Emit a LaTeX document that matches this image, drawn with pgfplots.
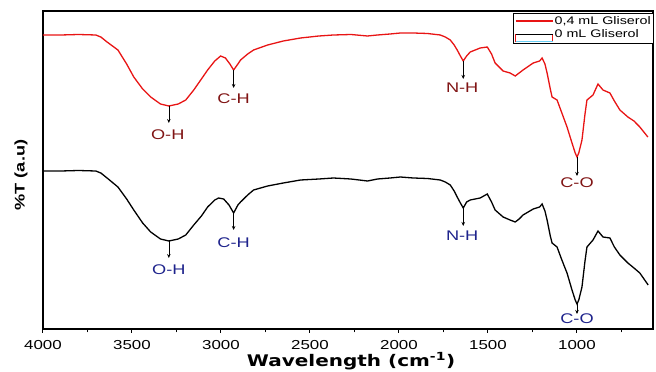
\documentclass[border=0pt]{standalone}
\usepackage{fontspec}
\setmainfont{Liberation Sans}[FakeStretch=1.3]
\newfontfamily\xlfont{DejaVu Sans}[FakeStretch=1.25]
\usepackage{pgfplots}
\pgfplotsset{compat=1.18}
\usetikzlibrary{arrows.meta}
\definecolor{curvered}{RGB}{232,20,20}
\definecolor{labred}{RGB}{128,20,20}
\definecolor{labblue}{RGB}{30,35,140}
\begin{document}
\begin{tikzpicture}
\begin{axis}[
  at={(0,0)}, anchor=south west,
  scale only axis, width=610pt, height=318pt,
  xmin=573, xmax=4000, x dir=reverse,
  ymin=0, ymax=318,
  xtick={1000,1500,2000,2500,3000,3500,4000},
  minor xtick={750,1250,1750,2250,2750,3250,3750},
  xtick pos=bottom, ytick=\empty,
  tick align=outside, major tick length=4pt, minor tick length=3.5pt,
  every tick/.style={black, line width=1pt},
  axis line style={line width=1.1pt},
  /pgf/number format/assume math mode=true,
  /pgf/number format/1000 sep={},
  xticklabel style={font=\fontsize{13}{15}\selectfont, anchor=center, yshift=-12pt},
  xlabel={\xlfont\bfseries Wavelength (cm\textsuperscript{-1})},
  xlabel style={at={(axis description cs:0.505,-0.101)}, anchor=center, font=\fontsize{16}{18}\selectfont},
  ylabel={\bfseries \%T (a.u)},
  ylabel style={at={(axis description cs:-0.036,0.484)}, anchor=center, font=\fontsize{14}{16}\selectfont},
  legend style={at={(axis description cs:1.002,0.994)}, anchor=north east,
    draw=black, line width=0.8pt, font=\fontsize{11}{13}\selectfont,
    inner sep=1.5pt, row sep=1pt, cells={anchor=west}, nodes={inner sep=1.5pt}},
  legend image code/.code={\draw[#1] (0pt,0pt) -- (37pt,0pt);},
]
\addplot[curvered, line width=1.3pt] coordinates {
(4000,294)(3900,294)(3800,294.5)(3703,294)(3675,292)(3640,287)(3579,279)(3530,265)(3490,252)(3440,240)(3395,232)(3340,225)(3293,223)(3240,225)(3198,229)(3153,239)(3110,250)(3075,259)(3035,268)(3002,273)(2975,271)(2950,265)(2929,259)(2905,265)(2890,269)(2850,275)(2817,279)(2738,284)(2650,288)(2553,291)(2450,293)(2368,294)(2270,294.5)(2177,293)(2121,294)(2050,295)(1992,296)(1919,296)(1840,295.5)(1768,294)(1740,292)(1712,289)(1690,284)(1673,279)(1655,273)(1639,268)(1620,273)(1600,277)(1544,281)(1504,282)(1480,275)(1460,266)(1415,258)(1376,256)(1347,253)(1325,256)(1303,259)(1246,266)(1210,268)(1196,271)(1180,265)(1168,256)(1150,240)(1140,232)(1112,229)(1085,216)(1056,202)(1028,186)(1010,176)(1000,172)(990,176)(972,189)(955,215)(944,229)(910,234)(882,245)(854,239)(815,236)(790,228)(759,219)(714,212)(680,208)(647,202)(602,192)
};
\addlegendentry{0,4 mL Gliserol}
\addplot[black, line width=1.3pt, legend image code/.code={
  \draw[curvered, line width=0.7pt] (0pt,-7pt) -- (0pt,0pt) -- (37pt,0pt) -- (37pt,-7pt);
  \draw[black, line width=1.3pt] (0pt,0pt) -- (37pt,0pt);
  \draw[cyan!60, line width=0.8pt] (0pt,-7pt) -- (37pt,-7pt);}] coordinates {
(4000,158)(3900,158)(3800,158.5)(3703,158)(3675,156)(3640,151)(3579,142)(3530,130)(3490,119)(3440,106)(3395,97)(3340,90)(3293,88)(3240,90)(3198,94)(3153,104)(3110,113)(3075,122)(3035,129)(3013,131)(2985,130)(2955,124)(2929,116)(2905,124)(2890,127)(2850,134)(2817,139)(2738,143)(2650,146)(2553,149)(2450,150)(2368,151)(2270,150)(2177,148)(2121,150)(2050,151)(1992,152)(1919,151)(1840,150.5)(1768,149)(1740,147)(1712,144)(1690,138)(1673,132)(1655,126)(1639,121)(1620,127)(1600,129)(1544,131)(1504,135)(1480,127)(1460,119)(1415,112)(1376,109)(1347,107)(1325,110)(1303,114)(1246,120)(1210,122)(1196,125)(1180,118)(1168,109)(1150,93)(1140,86)(1112,82)(1085,69)(1056,56)(1028,39)(1010,29)(1000,25)(990,29)(972,42)(955,68)(944,82)(910,89)(882,98)(854,92)(815,91)(790,82)(759,74)(714,66)(680,61)(647,56)(600,44)
};
\addlegendentry{0 mL Gliserol}
\begin{scope}[every node/.style={font=\fontsize{14}{16}\selectfont, inner sep=0pt, anchor=center}]
\draw[-{Stealth[length=4pt,width=3.5pt]}, line width=0.6pt] (axis cs:3293,223) -- (axis cs:3293,206);
\node[text=labred] at (axis cs:3299,194) {O-H};
\draw[-{Stealth[length=4pt,width=3.5pt]}, line width=0.6pt] (axis cs:2929,259) -- (axis cs:2929,241);
\node[text=labred] at (axis cs:2929,230) {C-H};
\draw[-{Stealth[length=4pt,width=3.5pt]}, line width=0.6pt] (axis cs:1639,268) -- (axis cs:1639,250);
\node[text=labred] at (axis cs:1645,241) {N-H};
\draw[-{Stealth[length=4pt,width=3.5pt]}, line width=0.6pt] (axis cs:1000,172) -- (axis cs:1000,153);
\node[text=labred] at (axis cs:1000,146) {C-O};
\draw[-{Stealth[length=4pt,width=3.5pt]}, line width=0.6pt] (axis cs:3293,88) -- (axis cs:3293,71);
\node[text=labblue] at (axis cs:3293,59) {O-H};
\draw[-{Stealth[length=4pt,width=3.5pt]}, line width=0.6pt] (axis cs:2929,116) -- (axis cs:2929,99);
\node[text=labblue] at (axis cs:2929,86) {C-H};
\draw[-{Stealth[length=4pt,width=3.5pt]}, line width=0.6pt] (axis cs:1639,121) -- (axis cs:1639,103);
\node[text=labblue] at (axis cs:1645,93) {N-H};
\draw[-{Stealth[length=4pt,width=3.5pt]}, line width=0.6pt] (axis cs:1000,25) -- (axis cs:1000,15);
\node[text=labblue] at (axis cs:1000,10) {C-O};
\end{scope}
\end{axis}
\pgfresetboundingbox
\path[use as bounding box] (-43pt,-43pt) rectangle (613pt,329pt);
\end{tikzpicture}
\end{document}
